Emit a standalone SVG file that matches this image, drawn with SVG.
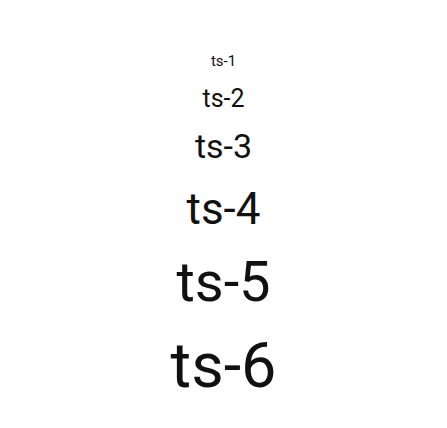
<svg xmlns="http://www.w3.org/2000/svg" width="447" height="428" viewBox="0 0 447 428">
<style>
text{font-family:Roboto,"Liberation Sans",sans-serif;fill:#111;text-anchor:middle}
</style>
<rect width="447" height="428" fill="#fff"/>
<g id="ts-1"><text x="223.5" y="66" font-size="15">ts-1</text></g>
<g id="ts-2"><text x="223.5" y="107" font-size="25">ts-2</text></g>
<g id="ts-3"><text x="223.5" y="158" font-size="34">ts-3</text></g>
<g id="ts-4"><text x="223.5" y="224" font-size="44">ts-4</text></g>
<g id="ts-5"><text x="223.5" y="301" font-size="56">ts-5</text></g>
<g id="ts-6"><text x="223.5" y="387" font-size="63">ts-6</text></g>
</svg>
